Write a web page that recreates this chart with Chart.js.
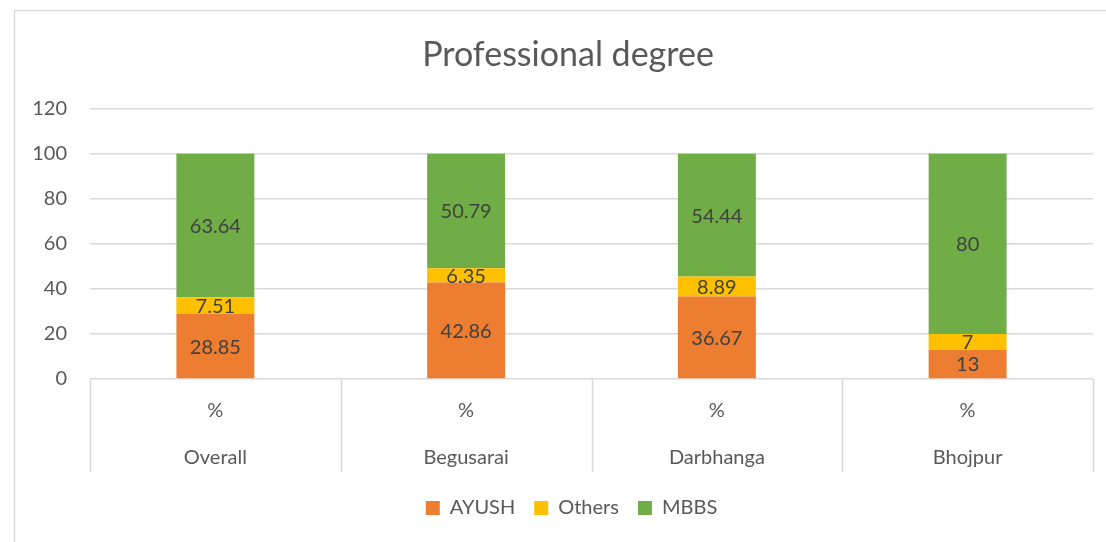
<!DOCTYPE html>
<html>
<head>
<meta charset="utf-8">
<script src="https://cdn.jsdelivr.net/npm/chart.js@4.4.1/dist/chart.umd.min.js"></script>
<style>
  html, body { margin: 0; padding: 0; background: #ffffff; }
  #wrap { position: relative; width: 1106px; height: 542px; }
</style>
</head>
<body>
<div id="wrap"><canvas id="c" width="1106" height="542"></canvas></div>
<script>
const categories = ["Overall", "Begusarai", "Darbhanga", "Bhojpur"];
const subLabel = "%";
const ayush = [28.85, 42.86, 36.67, 13];
const others = [7.51, 6.35, 8.89, 7];
const mbbs = [63.64, 50.79, 54.44, 80];
const yTicks = [0, 20, 40, 60, 80, 100, 120];

const FONT = "Lato, 'Open Sans', sans-serif";
const GRID = "#d9d9d9";
const TEXT = "#595959";

const frame = {
  id: "frame",
  beforeDraw(chart) {
    const ctx = chart.ctx;
    ctx.save();
    ctx.strokeStyle = GRID;
    ctx.lineWidth = 1.5;
    ctx.beginPath();
    ctx.moveTo(14.5, 542);
    ctx.lineTo(14.5, 10.5);
    ctx.lineTo(1106, 10.5);
    ctx.stroke();
    ctx.restore();
  },
  afterLayout(chart) {
    if (chart.titleBlock) {
      chart.titleBlock.left += 29;
    }
    if (chart.legend) {
      chart.legend.left += 18;
      chart.legend.right += 18;
    }
  }
};

const separators = {
  id: "separators",
  afterDraw(chart) {
    const x = chart.scales.x;
    const ctx = chart.ctx;
    const n = categories.length;
    const w = (x.right - x.left) / n;
    ctx.save();
    ctx.strokeStyle = GRID;
    ctx.lineWidth = 1.5;
    for (let i = 0; i <= n; i++) {
      const px = Math.round(x.left + i * w) + 0.5;
      ctx.beginPath();
      ctx.moveTo(px, x.top);
      ctx.lineTo(px, x.top + 93);
      ctx.stroke();
    }
    ctx.restore();
  }
};

const dataLabels = {
  id: "dataLabels",
  afterDatasetsDraw(chart) {
    const ctx = chart.ctx;
    ctx.save();
    ctx.font = "20px " + FONT;
    ctx.fillStyle = "#404040";
    ctx.textAlign = "center";
    ctx.textBaseline = "middle";
    chart.data.datasets.forEach((ds, di) => {
      const meta = chart.getDatasetMeta(di);
      meta.data.forEach((bar, i) => {
        const v = ds.data[i];
        const cy = (bar.y + bar.base) / 2;
        ctx.fillText(String(v), bar.x, cy + 1);
      });
    });
    ctx.restore();
  }
};

new Chart(document.getElementById("c"), {
  type: "bar",
  data: {
    labels: categories.map(c => [subLabel, c]),
    datasets: [
      { label: "AYUSH", data: ayush, backgroundColor: "#ED7D31" },
      { label: "Others", data: others, backgroundColor: "#FFC000" },
      { label: "MBBS", data: mbbs, backgroundColor: "#70AD47" }
    ]
  },
  options: {
    responsive: false,
    animation: false,
    layout: { padding: { left: 14, right: 13, top: 0, bottom: 14 } },
    datasets: { bar: { categoryPercentage: 1, barPercentage: 0.311 } },
    plugins: {
      title: {
        display: true,
        text: "Professional degree",
        color: TEXT,
        font: { family: FONT, size: 34, weight: "normal", lineHeight: 1.2 },
        padding: { top: 35, bottom: 33 }
      },
      legend: {
        position: "bottom",
        labels: {
          color: TEXT,
          font: { family: FONT, size: 20 },
          boxWidth: 14,
          boxHeight: 14,
          padding: 19
        }
      },
      tooltip: { enabled: false }
    },
    scales: {
      x: {
        stacked: true,
        grid: { display: false },
        border: { display: false },
        ticks: {
          color: TEXT,
          font: { family: FONT, size: 20, lineHeight: 2.35 },
          padding: 0,
          maxRotation: 0,
          autoSkip: false
        },
        afterFit(scale) { scale.height = 100; }
      },
      y: {
        stacked: true,
        min: 0,
        max: 120,
        afterBuildTicks(scale) { scale.ticks = yTicks.map(v => ({ value: v })); },
        grid: { color: GRID, lineWidth: 1.5, drawTicks: false },
        border: { display: false },
        ticks: {
          color: TEXT,
          font: { family: FONT, size: 20 },
          padding: 23
        },
        afterFit(scale) { scale.width = 76; }
      }
    }
  },
  plugins: [frame, separators, dataLabels]
});
</script>
</body>
</html>
